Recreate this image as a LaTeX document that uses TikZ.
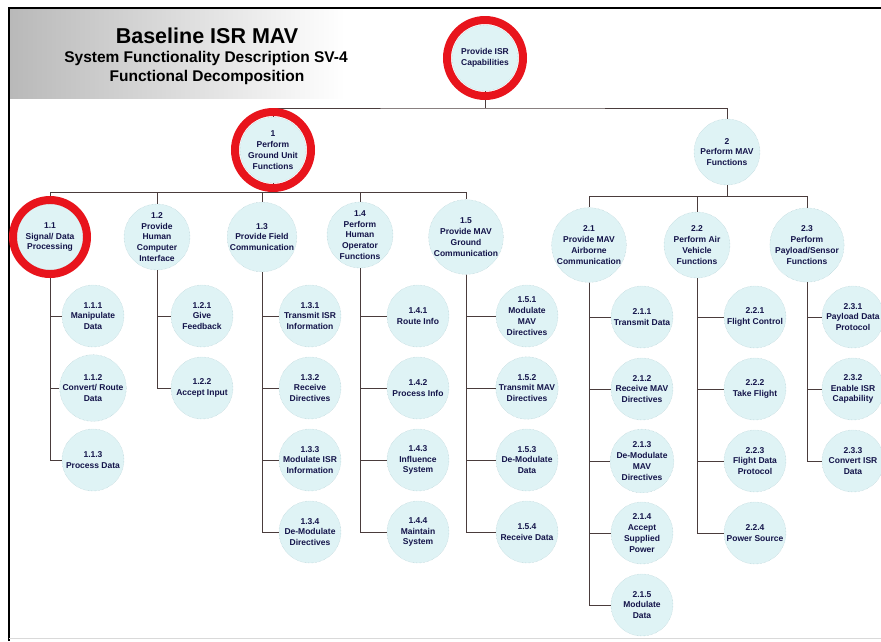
\documentclass[tikz,border=0pt]{standalone}
\usepackage{fontspec}
\setmainfont{Liberation Sans}
\usetikzlibrary{positioning}
\definecolor{bubble}{HTML}{DFF3F5}
\definecolor{bubbleline}{HTML}{A9C6CC}
\definecolor{ink}{HTML}{14144A}
\definecolor{wirecol}{HTML}{4A3C3C}
\definecolor{ringred}{HTML}{E8141C}

\begin{document}
\begin{tikzpicture}[x=1pt,y=-1pt,
  func/.style={circle,fill=bubble,draw=bubbleline,densely dotted,minimum size=66pt,inner sep=0pt,
    align=center,text=ink,font=\fontsize{8.5}{10.8}\selectfont\bfseries},
  leaf/.style={func,minimum size=62pt},
  wire/.style={draw=wirecol,line width=1pt},
  ring/.style={draw=ringred,line width=8pt},
  heading/.style={font=\fontsize{15.5}{17}\selectfont\bfseries}]
\useasboundingbox (0,0) rectangle (881,641);

% title block
\shade[left color=gray!55,middle color=gray!35,right color=white] (10,8) rectangle (345,98);
\draw[line width=2pt] (9,641) -- (9,8) -- (881,8);
\draw[gray!30] (9,638) -- (881,638);
\node[font=\fontsize{21.5}{24}\selectfont\bfseries] (title) at (207,36) {Baseline ISR MAV};
\node[heading] (sub1) at (206,58) {System Functionality Description SV-4};
\node[heading] (sub2) at (207,77) {Functional Decomposition};

% top levels
\node[func] (root) at (485,58) {Provide ISR\\Capabilities};
\node[func] (f1) at (273,150) {1\\Perform\\Ground Unit\\Functions};
\node[func] (f2) at (727,152) {2\\Perform MAV\\Functions};

\node[func] (f11) at (50,237) {1.1\\Signal/ Data\\Processing};
\node[func] (f12) at (157,237) {1.2\\Provide\\Human\\Computer\\Interface};
\node[func] (f13) at (262,237) {1.3\\Provide Field\\Communication};
\node[func] (f14) at (360,235) {1.4\\Perform\\Human\\Operator\\Functions};
\node[func] (f15) at (466,237) {1.5\\Provide MAV\\Ground\\Communication};
\node[func] (f21) at (589,245) {2.1\\Provide MAV\\Airborne\\Communication};
\node[func] (f22) at (697,245) {2.2\\Perform Air\\Vehicle\\Functions};
\node[func] (f23) at (807,245) {2.3\\Perform\\Payload/Sensor\\Functions};

% leaves
\node[leaf] (f111) at (93,316) {1.1.1\\Manipulate\\Data};
\node[leaf] (f112) at (93,388) {1.1.2\\Convert/ Route\\Data};
\node[leaf] (f113) at (93,460) {1.1.3\\Process Data};
\node[leaf] (f121) at (202,316) {1.2.1\\Give\\Feedback};
\node[leaf] (f122) at (202,388) {1.2.2\\Accept Input};
\node[leaf] (f131) at (310,316) {1.3.1\\Transmit ISR\\Information};
\node[leaf] (f132) at (310,388) {1.3.2\\Receive\\Directives};
\node[leaf] (f133) at (310,460) {1.3.3\\Modulate ISR\\Information};
\node[leaf] (f134) at (310,532) {1.3.4\\De-Modulate\\Directives};
\node[leaf] (f141) at (418,316) {1.4.1\\Route Info};
\node[leaf] (f142) at (418,388) {1.4.2\\Process Info};
\node[leaf] (f143) at (418,460) {1.4.3\\Influence\\System};
\node[leaf] (f144) at (418,532) {1.4.4\\Maintain\\System};
\node[leaf] (f151) at (527,316) {1.5.1\\Modulate\\MAV\\Directives};
\node[leaf] (f152) at (527,388) {1.5.2\\Transmit MAV\\Directives};
\node[leaf] (f153) at (527,460) {1.5.3\\De-Modulate\\Data};
\node[leaf] (f154) at (527,532) {1.5.4\\Receive Data};
\node[leaf] (f211) at (642,317) {2.1.1\\Transmit Data};
\node[leaf] (f212) at (642,389) {2.1.2\\Receive MAV\\Directives};
\node[leaf] (f213) at (642,461) {2.1.3\\De-Modulate\\MAV\\Directives};
\node[leaf] (f214) at (642,533) {2.1.4\\Accept\\Supplied\\Power};
\node[leaf] (f215) at (642,605) {2.1.5\\Modulate\\Data};
\node[leaf] (f221) at (755,317) {2.2.1\\Flight Control};
\node[leaf] (f222) at (755,389) {2.2.2\\Take Flight};
\node[leaf] (f223) at (755,461) {2.2.3\\Flight Data\\Protocol};
\node[leaf] (f224) at (755,533) {2.2.4\\Power Source};
\node[leaf] (f231) at (853,317) {2.3.1\\Payload Data\\Protocol};
\node[leaf] (f232) at (853,389) {2.3.2\\Enable ISR\\Capability};
\node[leaf] (f233) at (853,461) {2.3.3\\Convert ISR\\Data};

% connectors
\coordinate (b0) at (485,108);
\coordinate (b1) at (273,192);
\coordinate (b2) at (727,196);
\draw[wire] (root.south) -- (b0);
\draw[wire] (f1.north) |- (b0) -| (f2.north);
\draw[wire] (f1.south) -- (b1);
\draw[wire] (f2.south) -- (b2);
\foreach \c in {f11,f12,f13,f14,f15} \draw[wire] (b1) -| (\c.north);
\foreach \c in {f21,f22,f23} \draw[wire] (b2) -| (\c.north);
\foreach \p/\n in {f11/3,f12/2,f13/4,f14/4,f15/4,f21/5,f22/4,f23/3}
  \foreach \k in {1,...,\n} \draw[wire] (\p.south) |- (\p\k.west);

% highlights
\draw[ring] (root) circle[radius=38];
\draw[ring] (f1) circle[radius=38];
\draw[ring] (f11) circle[radius=37];
\end{tikzpicture}
\end{document}
